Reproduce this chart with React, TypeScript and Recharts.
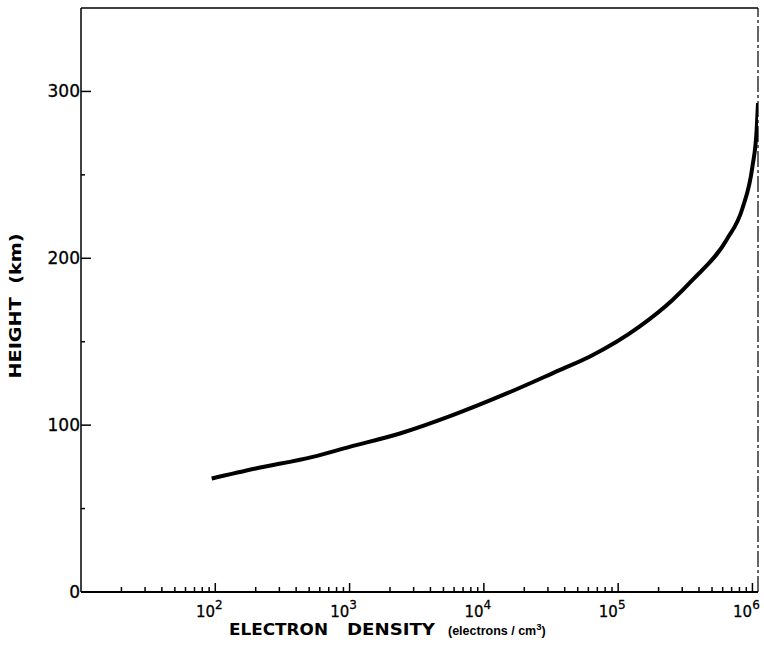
import { LineChart, Line, XAxis, YAxis, ReferenceLine } from "recharts";

// electrons / cm^3 and height in km
const DENSITY = [94, 200, 532, 1000, 2370, 5860, 14800, 36600, 61200, 144000, 254000, 358000, 641000, 843000, 1000000, 1075000, 1100000];
const HEIGHT_KM = [68, 74, 81, 87, 95, 106, 119, 133, 141, 159, 175, 187, 211, 230, 255, 277, 293];

const X_DOMAIN = [10, 1.1e6];
const DECADES = [1, 2, 3, 4, 5];
const X_LABELED = [100, 1000, 10000, 100000, 1000000];
const Y_TICKS = [0, 50, 100, 150, 200, 250, 300];
const Y_LABELED = [0, 100, 200, 300];
const Y_MAX = 350;

const data = DENSITY.map((d, i) => ({ density: d, height: HEIGHT_KM[i] }));

const xTicks: number[] = [];
DECADES.forEach((p) => {
  for (let m = p === 1 ? 2 : 1; m <= 9; m++) xTicks.push(m * Math.pow(10, p));
});
xTicks.push(1e6);

const FONT = "'DejaVu Sans', sans-serif";

const XTick = (props: any) => {
  const { x, y, payload } = props;
  const v = payload.value;
  const major = X_LABELED.some((l) => Math.abs(l - v) < 1e-6 * l);
  const exp = Math.round(Math.log10(v));
  return (
    <g>
      <line x1={x} x2={x} y1={y} y2={y - (major ? 9 : 5)} stroke="#000" strokeWidth={1.5} />
      {major && (
        <text x={x - 6} y={y + 25} textAnchor="middle" fontFamily={FONT} fontSize={15} fill="#000" stroke="#000" strokeWidth={0.3}>
          10
          <tspan dy={-8} fontSize={12}>{exp}</tspan>
        </text>
      )}
    </g>
  );
};

const YTick = (props: any) => {
  const { x, y, payload } = props;
  const v = payload.value;
  const major = Y_LABELED.includes(v);
  return (
    <g>
      {v !== 0 && <line x1={x} x2={x + (major ? 10 : 4)} y1={y} y2={y} stroke="#000" strokeWidth={1.5} />}
      {major && (
        <text x={x - 1} y={y + 6} textAnchor="end" fontFamily={FONT} fontSize={17} fill="#000" stroke="#000" strokeWidth={0.3}>
          {v}
        </text>
      )}
    </g>
  );
};

const XLabel = (props: any) => {
  const { viewBox } = props;
  const y = viewBox.y + 43;
  const caps = { fontFamily: FONT, fontWeight: "bold", fill: "#000", y, fontSize: 16, lengthAdjust: "spacingAndGlyphs" } as any;
  return (
    <g>
      <text {...caps} x={229} textLength={99}>ELECTRON</text>
      <text {...caps} x={347} textLength={88}>DENSITY</text>
      <text x={448} y={y} fontFamily="'Liberation Sans', sans-serif" fontWeight="bold" fontSize={12.5} fill="#000">
        (electrons / cm
        <tspan dy={-5} fontSize={9.5}>3</tspan>
        <tspan dy={5}>)</tspan>
      </text>
    </g>
  );
};

const YLabel = (props: any) => {
  const { viewBox } = props;
  const cx = 21;
  const cy = viewBox.y + viewBox.height / 2 + 6;
  return (
    <text x={cx} y={cy} transform={`rotate(-90 ${cx} ${cy})`} textAnchor="middle" fontFamily={FONT} fontWeight="bold" fontSize={16} textLength={145} lengthAdjust="spacingAndGlyphs" fill="#000">
      HEIGHT{"\u00a0\u00a0"}(km)
    </text>
  );
};

export default function App() {
  return (
    <div style={{ position: "absolute", left: 0, top: 0, background: "#fff" }}>
      <LineChart width={764} height={663} data={data} margin={{ top: 8, right: 6, bottom: 0, left: 0 }}>
        <XAxis
          dataKey="density"
          type="number"
          scale="log"
          domain={X_DOMAIN}
          ticks={xTicks}
          interval={0}
          allowDataOverflow
          height={71}
          tickLine={false}
          tickSize={0}
          tickMargin={0}
          tick={<XTick />}
          axisLine={{ stroke: "#000", strokeWidth: 2 }}
          label={<XLabel />}
        />
        <YAxis
          type="number"
          domain={[0, Y_MAX]}
          ticks={Y_TICKS}
          interval={0}
          width={81}
          tickLine={false}
          tickSize={0}
          tickMargin={0}
          tick={<YTick />}
          axisLine={{ stroke: "#000", strokeWidth: 1.5 }}
          label={<YLabel />}
        />
        <ReferenceLine y={Y_MAX} stroke="#000" strokeWidth={1.5} />
        <ReferenceLine x={X_DOMAIN[1]} stroke="#000" strokeWidth={1.2} strokeDasharray="16 3 3 3" />
        <Line
          dataKey="height"
          type="monotone"
          stroke="#000"
          strokeWidth={4}
          dot={false}
          isAnimationActive={false}
        />
      </LineChart>
    </div>
  );
}
